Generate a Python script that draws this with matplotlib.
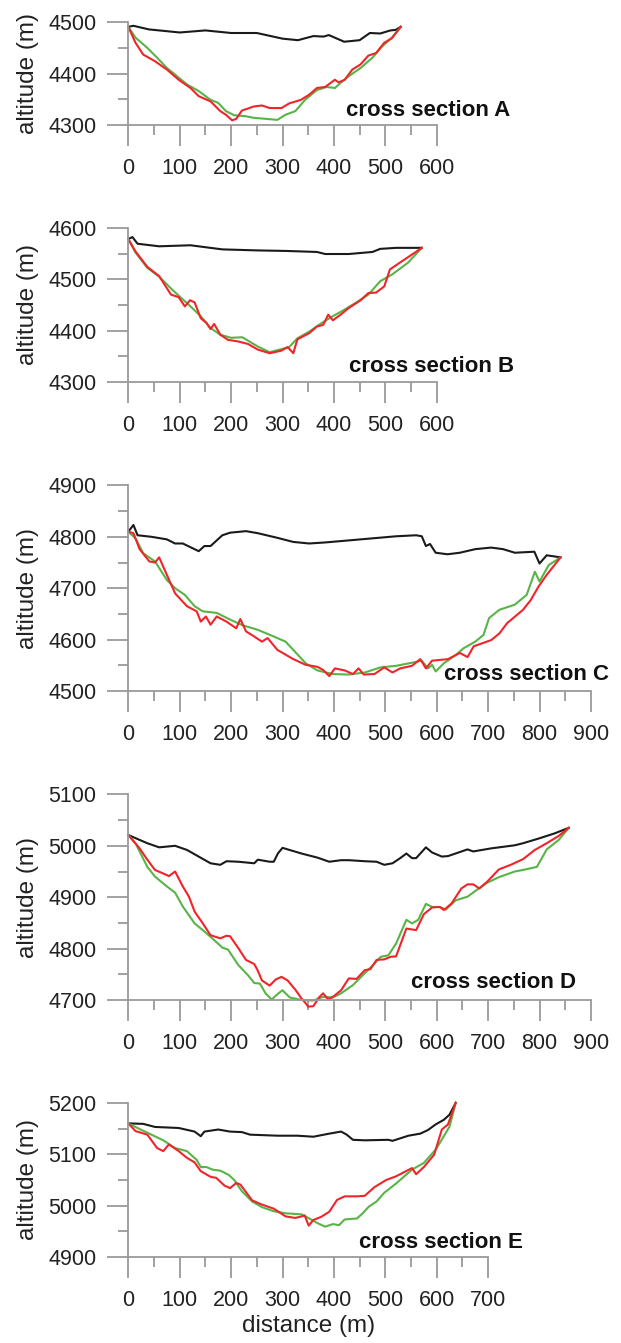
import numpy as np
import matplotlib.pyplot as plt

plt.rcParams['font.family'] = ['Liberation Sans', 'DejaVu Sans']

# ---- cross section A ----
a_black_x = [0, 10, 40, 100, 150, 200, 250, 300, 330, 360, 380, 390, 420, 450, 470, 490, 510, 520, 530]
a_black_y = [4491, 4493, 4486, 4480, 4484, 4479, 4479, 4468, 4465, 4473, 4472, 4475, 4462, 4465, 4479, 4478, 4484, 4485, 4491]
a_red_x = [0, 14, 29, 52, 75, 98, 121, 137, 160, 179, 190, 202, 210, 221, 244, 260, 275, 298, 313, 336,
           352, 367, 383, 402, 409, 421, 436, 452, 467, 482, 498, 513, 530]
a_red_y = [4491, 4460, 4437, 4424, 4408, 4388, 4372, 4356, 4346, 4327, 4320, 4309, 4312, 4328, 4336, 4338,
           4333, 4333, 4342, 4349, 4359, 4372, 4374, 4388, 4383, 4388, 4408, 4418, 4435, 4440, 4460, 4469, 4491]
a_green_x = [0, 14, 37, 56, 75, 91, 114, 137, 160, 175, 190, 206, 229, 244, 267, 290, 306, 325, 344, 367,
             386, 402, 413, 429, 452, 475, 494, 513, 530]
a_green_y = [4491, 4470, 4450, 4431, 4411, 4398, 4379, 4366, 4349, 4343, 4327, 4319, 4317, 4314, 4312, 4310,
             4320, 4327, 4349, 4368, 4374, 4372, 4382, 4395, 4411, 4431, 4453, 4470, 4491]

# ---- cross section B ----
b_black_x = [0, 8, 18, 60, 121, 152, 183, 252, 306, 367, 383, 429, 475, 490, 521, 571]
b_black_y = [4578, 4582, 4569, 4564, 4566, 4562, 4558, 4556, 4555, 4553, 4549, 4549, 4553, 4559, 4561, 4561]
b_red_x = [0, 14, 37, 60, 83, 98, 110, 120, 129, 141, 152, 160, 167, 179, 194, 213, 233, 252, 275, 298,
           310, 321, 329, 352, 367, 379, 389, 398, 413, 429, 452, 467, 482, 498, 509, 528, 552, 571]
b_red_y = [4578, 4554, 4524, 4506, 4470, 4465, 4447, 4459, 4455, 4424, 4415, 4403, 4413, 4392, 4382, 4379,
           4374, 4363, 4356, 4361, 4368, 4356, 4383, 4395, 4408, 4411, 4431, 4420, 4431, 4444, 4459, 4473,
           4474, 4486, 4519, 4532, 4548, 4561]
b_green_x = [0, 14, 37, 60, 83, 98, 120, 141, 160, 179, 200, 222, 252, 275, 298, 313, 329, 352, 375, 398,
             421, 444, 467, 490, 513, 544, 571]
b_green_y = [4578, 4552, 4522, 4505, 4482, 4468, 4448, 4428, 4405, 4392, 4386, 4387, 4369, 4358, 4364, 4368,
             4385, 4398, 4414, 4428, 4441, 4455, 4470, 4496, 4509, 4532, 4561]

# ---- cross section C ----
c_black_x = [0, 10, 18, 45, 75, 91, 106, 137, 148, 160, 183, 198, 229, 252, 290, 321, 352, 383, 429, 475,
             521, 560, 571, 579, 587, 598, 621, 645, 675, 706, 729, 752, 790, 800, 814, 841]
c_black_y = [4810, 4823, 4803, 4800, 4795, 4787, 4787, 4772, 4782, 4782, 4803, 4808, 4811, 4807, 4798, 4790,
             4787, 4789, 4793, 4797, 4801, 4803, 4801, 4782, 4786, 4769, 4766, 4769, 4776, 4779, 4776, 4769,
             4771, 4748, 4764, 4760]
c_red_x = [0, 10, 22, 41, 52, 60, 75, 91, 114, 133, 141, 151, 160, 172, 191, 210, 218, 229, 245, 260, 271,
           290, 321, 345, 368, 379, 391, 402, 421, 437, 448, 458, 479, 498, 514, 529, 552, 568, 579, 591, 622,
           645, 660, 672, 706, 722, 737, 768, 783, 798, 814, 841]
c_red_y = [4810, 4807, 4776, 4752, 4750, 4760, 4726, 4690, 4665, 4655, 4635, 4645, 4629, 4645, 4635, 4622,
           4640, 4616, 4606, 4596, 4603, 4580, 4562, 4551, 4547, 4541, 4529, 4544, 4540, 4533, 4544, 4532,
           4533, 4546, 4536, 4544, 4549, 4562, 4544, 4559, 4562, 4574, 4566, 4587, 4599, 4612, 4632, 4658,
           4677, 4703, 4726, 4760]
c_green_x = [0, 14, 29, 52, 75, 91, 110, 129, 145, 172, 198, 222, 252, 283, 306, 321, 345, 368, 398, 429,
             460, 491, 521, 552, 571, 583, 591, 598, 614, 637, 652, 675, 691, 702, 722, 752, 775, 791, 800,
             818, 841]
c_green_y = [4810, 4797, 4768, 4752, 4716, 4700, 4687, 4665, 4655, 4652, 4639, 4628, 4619, 4606, 4596, 4580,
             4554, 4540, 4533, 4532, 4536, 4546, 4549, 4555, 4559, 4544, 4551, 4538, 4554, 4570, 4583, 4596,
             4609, 4642, 4658, 4668, 4687, 4732, 4713, 4745, 4760]

# ---- cross section D ----
d_black_x = [0, 37, 60, 91, 114, 137, 160, 179, 191, 214, 245, 252, 275, 283, 291, 300, 337, 368, 391, 414,
             429, 460, 483, 498, 514, 529, 541, 552, 560, 579, 591, 610, 622, 660, 671, 706, 752, 768, 798,
             829, 857]
d_black_y = [5021, 5005, 4997, 5000, 4992, 4979, 4966, 4963, 4970, 4969, 4966, 4973, 4969, 4969, 4985, 4996,
             4985, 4977, 4969, 4972, 4972, 4970, 4969, 4963, 4966, 4976, 4985, 4976, 4976, 4997, 4987, 4979,
             4980, 4993, 4989, 4995, 5001, 5005, 5014, 5024, 5035]
d_red_x = [0, 22, 37, 52, 75, 79, 91, 106, 118, 129, 145, 160, 179, 191, 198, 214, 229, 245, 252, 260, 275,
           287, 298, 310, 325, 337, 344, 350, 360, 371, 379, 389, 398, 414, 429, 444, 460, 471, 483, 498,
           510, 521, 541, 560, 575, 591, 606, 614, 629, 648, 660, 671, 683, 698, 721, 744, 768, 791, 814,
           837, 857]
d_red_y = [5021, 4995, 4973, 4953, 4943, 4941, 4950, 4921, 4901, 4872, 4849, 4826, 4820, 4825, 4824, 4801,
           4778, 4770, 4757, 4738, 4728, 4740, 4745, 4738, 4720, 4703, 4695, 4687, 4688, 4705, 4713, 4701,
           4706, 4719, 4742, 4741, 4758, 4760, 4778, 4779, 4784, 4785, 4839, 4836, 4867, 4880, 4881, 4875,
           4888, 4917, 4925, 4925, 4917, 4930, 4954, 4963, 4974, 4992, 5005, 5019, 5035]
d_green_x = [0, 14, 37, 52, 75, 91, 106, 129, 152, 171, 183, 194, 214, 233, 245, 256, 267, 279, 291, 300,
             314, 337, 360, 379, 398, 414, 437, 460, 479, 491, 506, 521, 541, 552, 564, 579, 591, 606, 618,
             637, 660, 675, 698, 721, 752, 768, 795, 814, 837, 857]
d_green_y = [5021, 5005, 4959, 4940, 4921, 4909, 4882, 4849, 4830, 4813, 4802, 4798, 4768, 4748, 4733, 4732,
             4713, 4701, 4712, 4719, 4705, 4700, 4699, 4706, 4705, 4713, 4729, 4752, 4771, 4784, 4787, 4810,
             4856, 4849, 4856, 4887, 4881, 4881, 4876, 4894, 4901, 4912, 4928, 4939, 4950, 4953, 4959, 4993,
             5011, 5035]

# ---- cross section E ----
e_black_x = [0, 29, 52, 98, 129, 141, 148, 175, 198, 221, 237, 291, 329, 360, 391, 414, 425, 437, 460, 506,
             514, 545, 568, 583, 598, 614, 625, 637]
e_black_y = [5160, 5159, 5153, 5151, 5144, 5135, 5144, 5148, 5144, 5143, 5138, 5136, 5136, 5134, 5140, 5144,
             5138, 5128, 5127, 5128, 5126, 5136, 5140, 5147, 5158, 5167, 5177, 5200]
e_red_x = [0, 14, 37, 56, 68, 79, 98, 114, 129, 141, 160, 171, 187, 198, 210, 218, 241, 260, 283, 306, 325,
           337, 343, 351, 360, 375, 391, 406, 421, 445, 460, 479, 502, 521, 552, 560, 575, 595, 610, 622,
           637]
e_red_y = [5160, 5145, 5138, 5112, 5106, 5119, 5106, 5093, 5084, 5067, 5056, 5054, 5039, 5034, 5044, 5041,
           5010, 5002, 4994, 4979, 4976, 4979, 4981, 4961, 4972, 4978, 4988, 5011, 5018, 5018, 5019, 5036,
           5050, 5057, 5073, 5061, 5075, 5099, 5148, 5158, 5200]
e_green_x = [0, 22, 45, 68, 91, 114, 133, 141, 152, 164, 179, 195, 206, 221, 241, 260, 283, 306, 337, 352,
             368, 383, 398, 410, 421, 445, 456, 468, 483, 498, 521, 552, 575, 598, 614, 625, 637]
e_green_y = [5160, 5149, 5138, 5127, 5112, 5106, 5089, 5075, 5075, 5070, 5068, 5060, 5050, 5028, 5008, 4997,
             4989, 4985, 4983, 4975, 4966, 4959, 4964, 4962, 4973, 4975, 4985, 4998, 5008, 5025, 5043, 5070,
             5083, 5109, 5135, 5154, 5200]

sections = ['A', 'B', 'C', 'D', 'E']
x_max = [600, 600, 900, 900, 700]
y_lims = [(4300, 4500), (4300, 4600), (4500, 4900), (4700, 5100), (4900, 5200)]
profiles = [
    (a_black_x, a_black_y, a_green_x, a_green_y, a_red_x, a_red_y),
    (b_black_x, b_black_y, b_green_x, b_green_y, b_red_x, b_red_y),
    (c_black_x, c_black_y, c_green_x, c_green_y, c_red_x, c_red_y),
    (d_black_x, d_black_y, d_green_x, d_green_y, d_red_x, d_red_y),
    (e_black_x, e_black_y, e_green_x, e_green_y, e_red_x, e_red_y),
]

W, H = 621, 1343
px_per_m = 0.514
left_px = 128.3
bottom_px = [125, 382, 691, 1000, 1257]
# label pixel positions (left edge x, center y)
label_px = [(346, 110), (349, 367), (444, 675), (411, 983), (359, 1243)]

axis_grey = '#9a9a9a'
fig = plt.figure(figsize=(W / 100, H / 100), dpi=100)

for i in range(5):
    ymin, ymax = y_lims[i]
    w_px = x_max[i] * px_per_m
    h_px = (ymax - ymin) * px_per_m
    ax = fig.add_axes([left_px / W, 1 - bottom_px[i] / H, w_px / W, h_px / H])
    bx, by, gx, gy, rx, ry = profiles[i]
    ax.plot(bx, by, color='#1a1a1a', lw=1.5, clip_on=False)
    ax.plot(gx, gy, color='#58b447', lw=1.5, clip_on=False)
    ax.plot(rx, ry, color='#f0242a', lw=1.5, clip_on=False)
    ax.set_xlim(0, x_max[i])
    ax.set_ylim(ymin, ymax)
    ax.set_xticks(np.arange(0, x_max[i] + 1, 100))
    ax.set_xticks(np.arange(50, x_max[i], 100), minor=True)
    ax.set_yticks(np.arange(ymin, ymax + 1, 100))
    ax.set_yticks(np.arange(ymin + 50, ymax, 100), minor=True)
    for s in ['top', 'right']:
        ax.spines[s].set_visible(False)
    for s in ['left', 'bottom']:
        ax.spines[s].set_color(axis_grey)
        ax.spines[s].set_linewidth(1.3)
    ax.tick_params(which='major', length=15, width=1.3, color=axis_grey, labelsize=15.5, labelcolor='#222222')
    ax.tick_params(which='minor', length=7.5, width=1.3, color=axis_grey)
    ax.tick_params(axis='x', which='major', pad=9)
    ax.tick_params(axis='y', which='major', pad=8)
    ax.set_ylabel('altitude (m)', fontsize=17.5, color='#222222')
    ax.yaxis.set_label_coords((39 - left_px) / w_px, 0.5)
    fig.text(label_px[i][0] / W, 1 - label_px[i][1] / H, 'cross section ' + sections[i],
             fontsize=16, fontweight='bold', color='#111111', ha='left', va='center')
    if i == 4:
        ax.set_xlabel('distance (m)', fontsize=17.5, color='#222222')
        ax.xaxis.set_label_coords(0.5, -(1326 - bottom_px[i]) / h_px)
        ax.xaxis.label.set_va('center')

fig.savefig('out.png', dpi=100)
